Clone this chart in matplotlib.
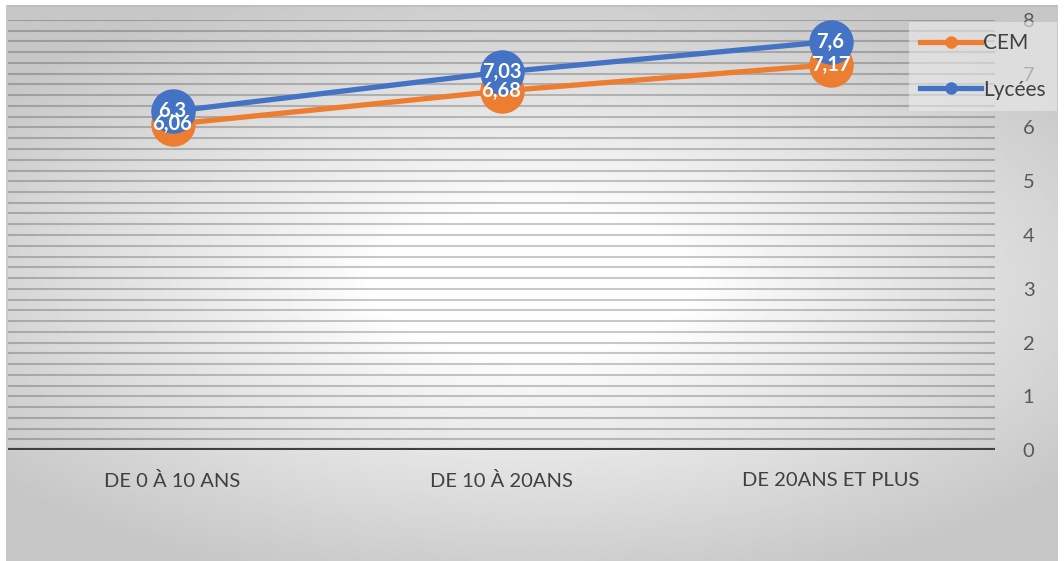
import numpy as np
import matplotlib
matplotlib.use("Agg")
import matplotlib.pyplot as plt
from matplotlib.lines import Line2D

categories = ["DE 0 À 10 ANS", "DE 10 À 20ANS", "DE 20ANS ET PLUS"]
cem = [6.06, 6.68, 7.17]
lycees = [6.3, 7.03, 7.6]
cem_labels = ["6,06", "6,68", "7,17"]
lycees_labels = ["6,3", "7,03", "7,6"]
yticks = [0, 1, 2, 3, 4, 5, 6, 7, 8]

ORANGE = "#ED7D31"
BLUE = "#4472C4"

plt.rcParams['font.family'] = ['Lato', 'DejaVu Sans']

W, H = 1064, 561
fig = plt.figure(figsize=(W / 100, H / 100), dpi=100)
fig.patch.set_facecolor("white")

# radial gradient background
bg = fig.add_axes([6 / W, 0, 1052 / W, 556 / H])
bg.set_axis_off()
yy, xx = np.mgrid[-1:1:300j, -1:1:600j]
r = np.sqrt(xx ** 2 + (yy * 1.15) ** 2)
t = np.clip((r - 0.3) / 1.0, 0, 1)
img = 1.0 - 0.22 * t ** 0.9
bg.imshow(img, cmap="gray", vmin=0, vmax=1, aspect="auto", extent=[0, 1, 0, 1])
bg.set_xlim(0, 1)
bg.set_ylim(0, 1)
bg.plot([0, 1], [0.999, 0.999], color="#bdbdbd", lw=1.2)
bg.plot([0.0005, 0.0005], [0, 1], color="#c8c8c8", lw=1.2)

ax = fig.add_axes([8 / W, (H - 450) / H, (995 - 8) / W, (450 - 20) / H])
ax.patch.set_alpha(0)
x = np.arange(len(categories))
ax.set_xlim(-0.5, len(categories) - 0.5)
ax.set_ylim(0, 8)

for v in np.arange(0.2, 8.01, 0.2):
    ax.axhline(v, color="black", alpha=0.21, lw=1.5, zorder=1)
ax.axhline(0, color="#404040", lw=3.0, zorder=2)

for s in ax.spines.values():
    s.set_visible(False)

ax.yaxis.tick_right()
ax.set_yticks(yticks)
ax.set_yticklabels([str(t) for t in yticks], fontsize=14.5, color="#595959")
ax.tick_params(axis="y", length=0, pad=20)
ax.set_xticks(x)
ax.set_xticklabels(categories, fontsize=14.5, color="#404040")
ax.tick_params(axis="x", length=0, pad=16)

ax.plot(x, cem, color=ORANGE, lw=3.8, marker="o", ms=31, zorder=3)
ax.plot(x, lycees, color=BLUE, lw=3.8, marker="o", ms=31, zorder=4)

for xi, v, t in zip(x, cem, cem_labels):
    ax.text(xi, v, t, color="white", fontsize=14.5, fontweight="bold", ha="center", va="center", zorder=6)
for xi, v, t in zip(x, lycees, lycees_labels):
    ax.text(xi, v, t, color="white", fontsize=14.5, fontweight="bold", ha="center", va="center", zorder=6)

handles = [Line2D([0], [0], color=ORANGE, lw=3.8, marker="o", ms=8),
           Line2D([0], [0], color=BLUE, lw=3.8, marker="o", ms=8)]
leg = fig.legend(handles, ["CEM", "Lycées"], loc="upper left",
                 bbox_to_anchor=(909 / W, 1 - 22 / H), frameon=True, fontsize=15,
                 handlelength=2.9, handletextpad=0.1, labelspacing=1.25,
                 borderpad=0.55, borderaxespad=0, fancybox=False)
leg.get_frame().set_facecolor("#ececec")
leg.get_frame().set_alpha(0.6)
leg.get_frame().set_edgecolor("none")
for t in leg.get_texts():
    t.set_color("#404040")

fig.savefig("out.png", dpi=100)
